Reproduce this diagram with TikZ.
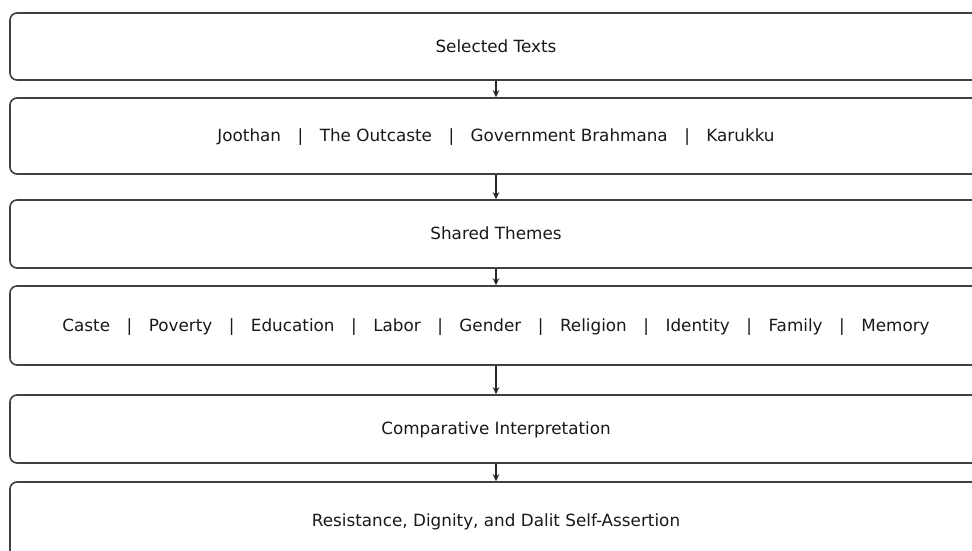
\documentclass[tikz,border=0pt]{standalone}
\usepackage{fontspec}
\setmainfont{DejaVu Sans}
\usetikzlibrary{calc,arrows.meta}
\tikzset{
  stage/.style={draw=black!75,line width=1.6pt,rounded corners=7pt,fill=white,
    minimum width=972pt,inner sep=0pt,text height=13.5pt,text depth=2pt,
    font=\fontsize{16.8}{19}\selectfont,text=black!90},
  flow/.style={-{Stealth[length=7pt,width=6.5pt]},line width=1.4pt,black!85}
}
\newcommand{\sepbar}{\hspace{16.5pt}|\hspace{16.5pt}}

\begin{document}
\begin{tikzpicture}[x=1pt,y=1pt]
    \useasboundingbox(0,0)rectangle(972,-551);
    \clip(0,0)rectangle(972,-551);
    \node[stage,minimum height=67pt](sel)at(496,-46.5){Selected Texts};
    \node[stage,minimum height=76pt](txt)at(496,-136){Joothan\sepbar The Outcaste\sepbar Government Brahmana\sepbar Karukku};
    \node[stage,minimum height=68pt](shr)at(496,-234){Shared Themes};
    \node[stage,minimum height=79pt](thm)at(496,-325.5){Caste\sepbar Poverty\sepbar Education\sepbar Labor\sepbar Gender\sepbar Religion\sepbar Identity\sepbar Family\sepbar Memory};
    \node[stage,minimum height=68pt](cmp)at(496,-429){Comparative Interpretation};
    \node[stage,minimum height=78pt](res)at(496,-521){Resistance, Dignity, and Dalit Self-Assertion};
    \draw[flow](sel.south)--(txt.north);
    \draw[flow](txt.south)--(shr.north);
    \draw[flow](shr.south)--(thm.north);
    \draw[flow](thm.south)--(cmp.north);
    \draw[flow](cmp.south)--(res.north);
  \end{tikzpicture}
\end{document}
